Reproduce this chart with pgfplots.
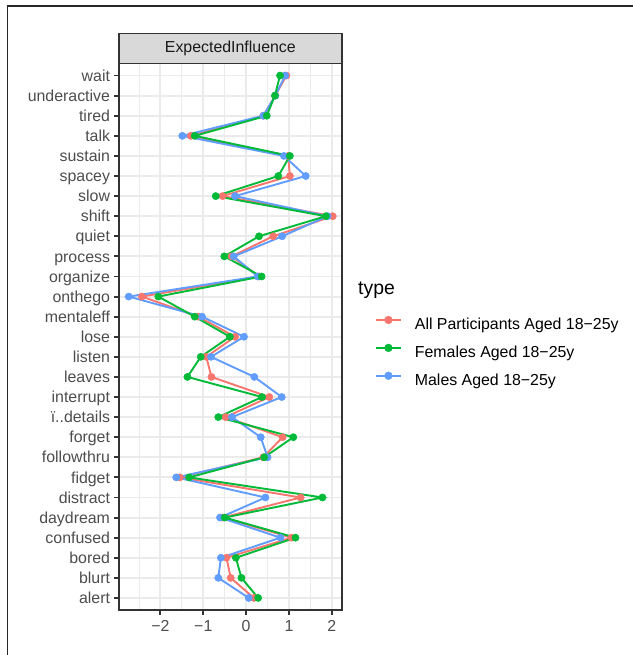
\documentclass[border=0pt]{standalone}
\usepackage{fontspec}
\setmainfont{Liberation Sans}
\usepackage{pgfplots}
\pgfplotsset{compat=1.18}
\usepackage{pgfplotstable}

\definecolor{cRed}{HTML}{F8766D}
\definecolor{cGreen}{HTML}{00BA38}
\definecolor{cBlue}{HTML}{619CFF}
\definecolor{gray20}{HTML}{333333}
\definecolor{gray30}{HTML}{4D4D4D}
\definecolor{gray10}{HTML}{1A1A1A}
\definecolor{gray85}{HTML}{D9D9D9}
\definecolor{gray92}{HTML}{EBEBEB}

\newcommand\axfont{\fontsize{15.9bp}{18bp}\selectfont}
\newcommand\titlefont{\fontsize{19.4bp}{22bp}\selectfont}

% y: 0 = alert ... 26 = wait
\pgfplotstableread{
y x
0 0.18
1 -0.36
2 -0.46
3 1.06
4 -0.55
5 1.27
6 -1.55
7 0.40
8 0.85
9 -0.48
10 0.54
11 -0.81
12 -0.93
13 -0.26
14 -1.12
15 -2.43
16 0.30
17 -0.34
18 0.63
19 2.02
20 -0.55
21 1.02
22 0.98
23 -1.29
24 0.40
25 0.68
26 0.94
}\allp

\pgfplotstableread{
y x
0 0.28
1 -0.11
2 -0.24
3 1.15
4 -0.50
5 1.78
6 -1.33
7 0.42
8 1.10
9 -0.65
10 0.37
11 -1.37
12 -1.06
13 -0.38
14 -1.20
15 -2.05
16 0.36
17 -0.51
18 0.30
19 1.86
20 -0.71
21 0.75
22 1.02
23 -1.20
24 0.48
25 0.67
26 0.79
}\femp

\pgfplotstableread{
y x
0 0.06
1 -0.65
2 -0.59
3 0.80
4 -0.61
5 0.45
6 -1.63
7 0.50
8 0.34
9 -0.33
10 0.83
11 0.19
12 -0.82
13 -0.05
14 -1.03
15 -2.74
16 0.27
17 -0.29
18 0.84
19 1.90
20 -0.26
21 1.39
22 0.88
23 -1.49
24 0.40
25 0.68
26 0.91
}\malp

\begin{document}
\begin{tikzpicture}
\path[use as bounding box] (0,0) rectangle (633bp,655bp);
\draw[line width=1.2bp, black!85] (7.3bp,0bp) -- (7.3bp,649bp) -- (633bp,649bp);
\begin{axis}[
  name=ax, at={(119bp,45bp)}, anchor=south west,
  scale only axis, width=222.7bp, height=546.5bp,
  xmin=-2.967, xmax=2.229, ymin=-0.6, ymax=26.6,
  xtick={-2,-1,0,1,2}, xticklabels={−2,−1,0,1,2},
  minor xtick={-2.5,-1.5,-0.5,0.5,1.5},
  ytick={0,...,26},
  yticklabels={alert,blurt,bored,confused,daydream,distract,fidget,followthru,forget,ï..details,interrupt,leaves,listen,lose,mentaleff,onthego,organize,process,quiet,shift,slow,spacey,sustain,talk,tired,underactive,wait},
  grid=both,
  major grid style={line width=1.9bp, gray92},
  minor grid style={line width=0.95bp, gray92},
  tick align=outside, xtick pos=bottom, ytick pos=left,
  major tick length=4.9bp, minor tick length=0pt,
  major tick style={line width=1.9bp, gray20},
  axis line style={line width=1.9bp, gray20},
  ticklabel style={font=\axfont, text=gray30},
  xticklabel style={inner sep=0pt, yshift=-5.5bp},
  yticklabel style={inner sep=0pt, xshift=-3.9bp, text height=11.3bp, text depth=0pt},
  legend style={at={(axis description cs:1.1495,0.5382)}, anchor=north west,
    draw=none, fill=none, inner sep=0pt, outer sep=0pt,
    row sep=10.8bp,
    nodes={inner sep=0pt, font=\axfont, text=black, text height=11.5bp, text depth=3.3bp},
    /tikz/every odd column/.append style={column sep=13bp}},
  legend cell align=left,
  legend image code/.code={\draw[line width=1.9bp] (0bp,5.6bp) -- (25bp,5.6bp); \fill (12.5bp,5.6bp) circle (3.9bp);},
]
% lines
\addplot[cRed, line width=1.9bp, forget plot] table[x=x,y=y]{\allp};
\addplot[cBlue, line width=1.9bp, forget plot] table[x=x,y=y]{\malp};
\addplot[cGreen, line width=1.9bp, forget plot] table[x=x,y=y]{\femp};
% points
\addplot[only marks, mark=*, mark size=3.6bp, cRed, mark options={line width=0.5bp}, forget plot] table[x=x,y=y]{\allp};
\addplot[only marks, mark=*, mark size=3.6bp, cBlue, mark options={line width=0.5bp}, forget plot] table[x=x,y=y]{\malp};
\addplot[only marks, mark=*, mark size=3.6bp, cGreen, mark options={line width=0.5bp}, forget plot] table[x=x,y=y]{\femp};
\addlegendimage{cRed}
\addlegendentry{All Participants Aged 18−25y}
\addlegendimage{cGreen}
\addlegendentry{Females Aged 18−25y}
\addlegendimage{cBlue}
\addlegendentry{Males Aged 18−25y}
\end{axis}
\draw[gray20, fill=gray85, line width=1.9bp] (ax.north west) rectangle ([yshift=30bp]ax.north east);
\node[font=\axfont, text=gray10] at ([yshift=15bp]ax.north) {ExpectedInfluence};
\node[anchor=base west, font=\titlefont, inner sep=0pt] at (358bp,360bp) {type};
\end{tikzpicture}
\end{document}
